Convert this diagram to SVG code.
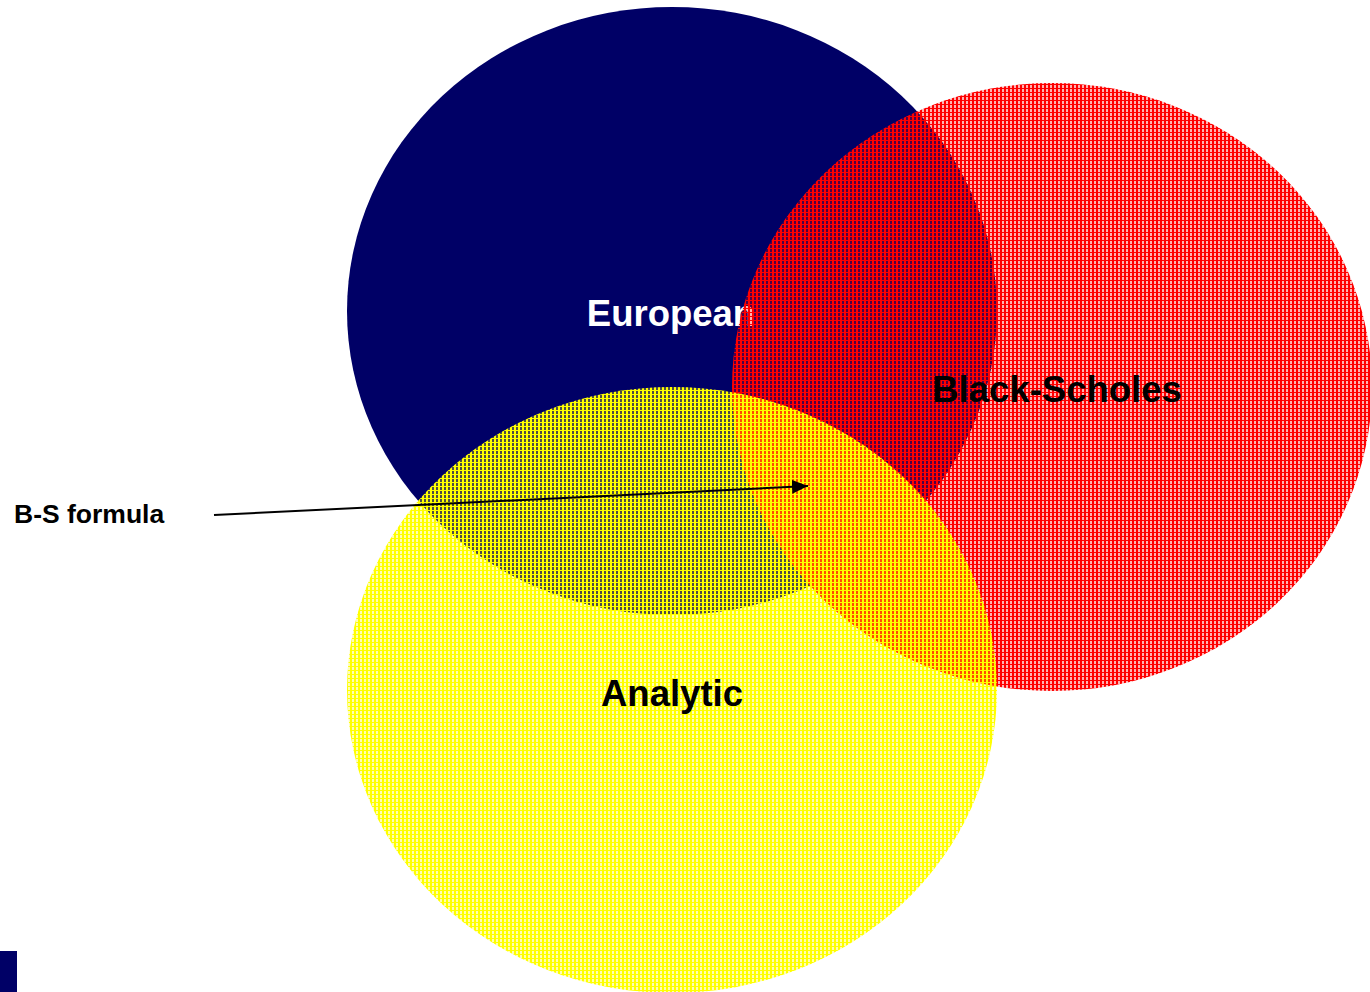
<svg xmlns="http://www.w3.org/2000/svg" width="1370" height="992" viewBox="0 0 1370 992">
  <style>
    .lbl { font-family: "Liberation Sans", Arial, sans-serif; font-weight: bold; }
    .big { font-size: 36.5px; }
    .small { font-size: 26.5px; }
  </style>
  <defs>
    <!-- fine woven hatch: solid thread lines, semi-open gaps between them -->
    <pattern id="hatchRed" width="4" height="4" patternUnits="userSpaceOnUse">
      <rect x="0" y="0" width="4" height="4" fill="#ff0000" fill-opacity="0.3"/>
      <rect x="0" y="0" width="2" height="4" fill="#ff0000"/>
      <rect x="2" y="0" width="2" height="1" fill="#ff0000"/>
    </pattern>
    <!-- same weave, shifted so its threads fall between the red ones -->
    <pattern id="hatchYellow" x="2" y="2" width="4" height="4" patternUnits="userSpaceOnUse">
      <rect x="0" y="0" width="4" height="4" fill="#ffff00" fill-opacity="0.3"/>
      <rect x="0" y="0" width="2" height="4" fill="#ffff00"/>
      <rect x="2" y="0" width="2" height="1" fill="#ffff00"/>
    </pattern>
    <marker id="arrowHead" viewBox="0 0 16 14" refX="16" refY="7" markerWidth="16" markerHeight="14" markerUnits="userSpaceOnUse" orient="auto">
      <path d="M0,0 L16,7 L0,14 Z" fill="#000"/>
    </marker>
  </defs>

  <rect width="1370" height="992" fill="#ffffff"/>

  <g id="european">
    <ellipse cx="672" cy="311" rx="325" ry="304" fill="#000066"/>
    <text class="lbl big" x="671" y="326" text-anchor="middle" fill="#ffffff">European</text>
  </g>

  <g id="black-scholes">
    <ellipse cx="1052" cy="387" rx="320" ry="304" fill="url(#hatchRed)"/>
    <text class="lbl big" x="1057" y="402" text-anchor="middle" fill="#000000">Black-Scholes</text>
  </g>

  <g id="analytic">
    <ellipse cx="672" cy="690" rx="325" ry="303" fill="url(#hatchYellow)"/>
    <text class="lbl big" x="672" y="706" text-anchor="middle" fill="#000000">Analytic</text>
  </g>

  <g id="bs-formula">
    <text class="lbl small" x="14" y="523" fill="#000000">B-S formula</text>
  </g>

  <g id="connectors">
    <line x1="214" y1="515" x2="808" y2="486" stroke="#000" stroke-width="2" marker-end="url(#arrowHead)"/>
  </g>

  <rect id="corner-mark" x="0" y="951" width="17" height="41" fill="#000066"/>
</svg>
